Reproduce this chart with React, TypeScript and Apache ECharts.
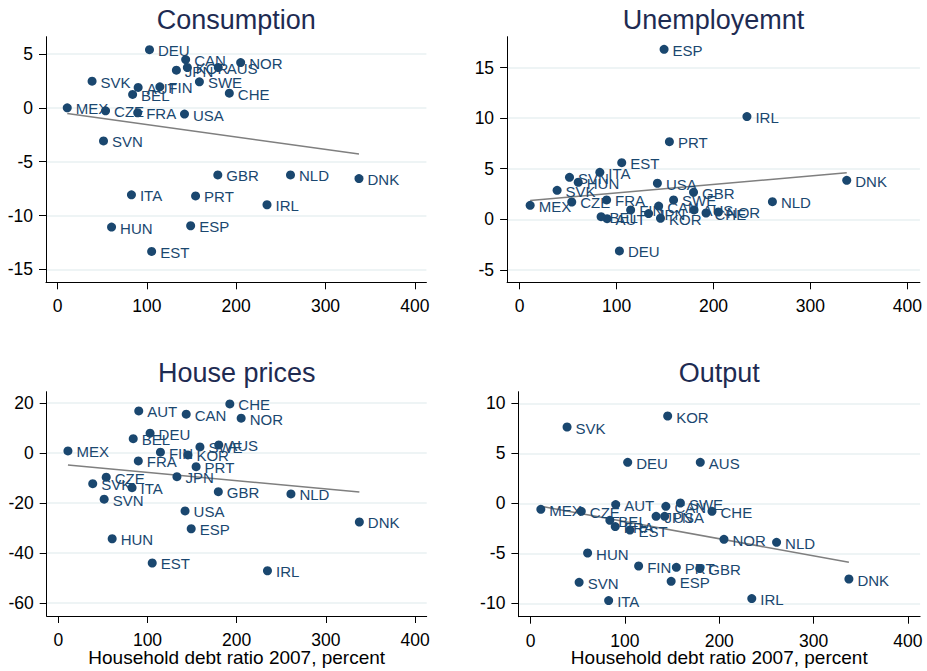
import React, { useEffect, useRef } from "react";
import * as echarts from "echarts";

// ---------- data ----------
const countries = [
  "AUS", "AUT", "BEL", "CAN", "CHE", "CZE", "DEU", "DNK", "ESP", "EST", "FIN", "FRA", "GBR",
  "HUN", "IRL", "ITA", "JPN", "KOR", "MEX", "NLD", "NOR", "PRT", "SVK", "SVN", "SWE", "USA",
];
// Household debt ratio 2007, percent (x)
const debtRatio = [
  179.9, 90.2, 84.0, 143.4, 192.3, 53.7, 102.9, 337.5, 149.0, 105.3, 114.5, 89.7, 179.4,
  60.4, 234.5, 82.7, 133.0, 145.3, 10.8, 260.8, 205.0, 154.5, 38.6, 51.4, 158.8, 142.1,
];
const consumption = [
  3.74, 1.89, 1.24, 4.48, 1.36, -0.28, 5.4, -6.57, -10.95, -13.33, 1.95, -0.46, -6.23,
  -11.07, -9.0, -8.08, 3.49, 3.74, 0.0, -6.23, 4.2, -8.18, 2.47, -3.08, 2.41, -0.58,
];
const unemployment = [
  0.92, 0.06, 0.26, 1.31, 0.62, 1.71, -3.13, 3.85, 16.8, 5.6, 0.92, 1.91, 2.67,
  3.66, 10.15, 4.64, 0.56, 0.1, 1.38, 1.74, 0.72, 7.67, 2.86, 4.15, 1.91, 3.56,
];
const housePrices = [
  3.3, 16.9, 5.8, 15.6, 19.7, -9.6, 8.0, -27.5, -30.2, -43.9, 0.4, -3.1, -15.4,
  -34.2, -47.0, -13.8, -9.4, -0.7, 0.9, -16.3, 14.0, -5.4, -12.2, -18.4, 2.5, -23.1,
];
const output = [
  4.1, -0.13, -1.7, -0.3, -0.8, -0.8, 4.1, -7.57, -7.8, -2.67, -6.27, -2.33, -6.53,
  -4.97, -9.53, -9.73, -1.3, 8.73, -0.6, -3.9, -3.6, -6.4, 7.63, -7.9, 0.03, -1.3,
];
// fitted lines (end points)
const trendConsumption = [[10.8, -0.52], [337.5, -4.3]];
const trendUnemployment = [[10.8, 1.85], [337.5, 4.6]];
const trendHousePrices = [[10.8, -4.7], [337.5, -15.5]];
const trendOutput = [[10.8, -0.3], [337.5, -5.9]];

const xTicks = [0, 100, 200, 300, 400];
const consumptionTicks = [-15, -10, -5, 0, 5];
const unemploymentTicks = [-5, 0, 5, 10, 15];
const housePricesTicks = [-60, -40, -20, 0, 20];
const outputTicks = [-10, -5, 0, 5, 10];

const titles = ["Consumption", "Unemployemnt", "House prices", "Output"];
const xAxisTitle = "Household debt ratio 2007, percent";

// ---------- styling / layout ----------
const NAVY = "#1a476f";
const TITLE_COLOR = "#1e2b52";
const FONT = "'Liberation Sans', Arial, sans-serif";

function buildOption() {
  const panels = [
    { values: consumption, trend: trendConsumption, ticks: consumptionTicks, yMin: -16.2, yMax: 6.6,
      left: 46, top: 36.7, width: 380.4, height: 245.6, xTitle: false },
    { values: unemployment, trend: trendUnemployment, ticks: unemploymentTicks, yMin: -6.23, yMax: 18.05,
      left: 507.1, top: 36.7, width: 412.8, height: 245.6, xTitle: false },
    { values: housePrices, trend: trendHousePrices, ticks: housePricesTicks, yMin: -65.1, yMax: 24.6,
      left: 46.7, top: 391.7, width: 380, height: 224.3, xTitle: true },
    { values: output, trend: trendOutput, ticks: outputTicks, yMin: -11.34, yMax: 11.16,
      left: 518.4, top: 391.7, width: 401.7, height: 225, xTitle: true },
  ];

  const grid = panels.map((p) => ({
    left: p.left, top: p.top, width: p.width, height: p.height,
    containLabel: false, outerBoundsMode: "none",
  }));

  const xAxis = panels.map((p, i) => ({
    type: "value", gridIndex: i, min: -13, max: 413,
    axisLine: { show: true, onZero: false, lineStyle: { color: "#000", width: 1 } },
    axisTick: { show: true, length: 7, customValues: xTicks, lineStyle: { color: "#000", width: 1 } },
    axisLabel: { customValues: xTicks, fontSize: 17.5, color: "#000", margin: 15, fontFamily: FONT },
    splitLine: { show: false },
  }));

  const yAxis = panels.map((p, i) => ({
    type: "value", gridIndex: i, min: p.yMin, max: p.yMax,
    axisLine: { show: true, onZero: false, lineStyle: { color: "#000", width: 1 } },
    axisTick: { show: true, length: 7, customValues: p.ticks, lineStyle: { color: "#000", width: 1 } },
    axisLabel: { customValues: p.ticks, fontSize: 17.5, color: "#000", margin: 13, fontFamily: FONT },
    splitLine: { show: true, lineStyle: { color: "#e8f0f2", width: 1.5 } },
  }));

  const series: any[] = [];
  panels.forEach((p, i) => {
    series.push({
      type: "line", xAxisIndex: i, yAxisIndex: i, data: p.trend, symbol: "none",
      lineStyle: { color: "#7f7f7f", width: 1.5 }, z: 2, silent: true,
    });
    series.push({
      type: "scatter", xAxisIndex: i, yAxisIndex: i, symbolSize: 9, z: 3,
      itemStyle: { color: NAVY, opacity: 1 },
      data: countries.map((c, k) => ({ name: c, value: [debtRatio[k], p.values[k]] })),
      label: {
        show: true, position: "right", distance: 4, formatter: "{b}",
        color: NAVY, fontSize: 15, fontFamily: FONT, offset: [0, 1],
      },
    });
  });

  const graphic: any[] = [];
  panels.forEach((p, i) => {
    const cx = p.left + p.width / 2;
    graphic.push({
      type: "text", x: cx, y: i < 2 ? 20 : 373,
      style: { text: titles[i], fill: TITLE_COLOR, fontSize: 27, fontFamily: FONT,
        textAlign: "center", textVerticalAlign: "middle" },
    });
    if (p.xTitle) {
      graphic.push({
        type: "text", x: cx, y: 657.5,
        style: { text: xAxisTitle, fill: "#000", fontSize: 19, fontFamily: FONT,
          textAlign: "center", textVerticalAlign: "middle" },
      });
    }
  });

  return {
    animation: false,
    backgroundColor: "#ffffff",
    grid, xAxis, yAxis, series, graphic,
  };
}

export default function App() {
  const ref = useRef<HTMLDivElement>(null);
  useEffect(() => {
    if (!ref.current) return;
    const chart = echarts.init(ref.current, null, { renderer: "svg" });
    chart.setOption(buildOption() as any);
    return () => chart.dispose();
  }, []);
  return (
    <div
      ref={ref}
      style={{ position: "fixed", left: 0, top: 0, width: 927, height: 671, background: "#fff" }}
    />
  );
}
